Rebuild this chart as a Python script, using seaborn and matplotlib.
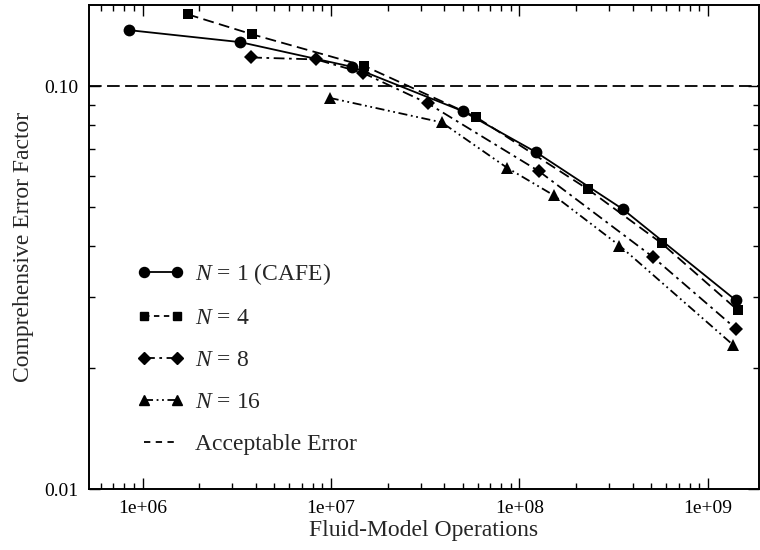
import numpy as np
import pandas as pd
import matplotlib
matplotlib.use("Agg")
import matplotlib.pyplot as plt
import seaborn as sns
from matplotlib.ticker import LogLocator, FuncFormatter, FixedLocator, NullFormatter
from matplotlib.lines import Line2D

# ---------------- data ----------------
ops_n1 = [8.5e5, 3.3e6, 1.29e7, 5.0e7, 1.23e8, 3.54e8, 1.41e9]
err_n1 = [0.1377, 0.1286, 0.1117, 0.0867, 0.0685, 0.0495, 0.0294]

ops_n4 = [1.74e6, 3.83e6, 1.50e7, 5.87e7, 2.32e8, 5.70e8, 1.44e9]
err_n4 = [0.1507, 0.1344, 0.1123, 0.0839, 0.0554, 0.0407, 0.0278]

ops_n8 = [3.77e6, 8.33e6, 1.475e7, 3.27e7, 1.27e8, 5.1e8, 1.41e9]
err_n8 = [0.1178, 0.1165, 0.1079, 0.0906, 0.0615, 0.0377, 0.0250]

ops_n16 = [9.85e6, 3.87e7, 8.57e7, 1.52e8, 3.4e8, 1.36e9]
err_n16 = [0.0935, 0.0813, 0.0628, 0.0536, 0.0402, 0.0228]

acceptable_error = 0.10

series_labels = [r"$N$ = 1 (CAFE)", r"$N$ = 4", r"$N$ = 8", r"$N$ = 16"]
accept_label = "Acceptable Error"

x_label = "Fluid-Model Operations"
y_label = "Comprehensive Error Factor"

x_major = [1e6, 1e7, 1e8, 1e9]
y_major = [0.01, 0.10]

# ---------------- build table ----------------
frames = []
for lab, xs, ys in zip(series_labels,
                       [ops_n1, ops_n4, ops_n8, ops_n16],
                       [err_n1, err_n4, err_n8, err_n16]):
    frames.append(pd.DataFrame({"ops": xs, "err": ys, "series": lab}))
df = pd.concat(frames, ignore_index=True)

# ---------------- style ----------------
sns.set_style("ticks")
plt.rcParams["font.family"] = ["Liberation Serif", "DejaVu Serif"]
plt.rcParams["mathtext.fontset"] = "custom"
plt.rcParams["mathtext.rm"] = "Liberation Serif"
plt.rcParams["mathtext.it"] = "Liberation Serif:italic"
plt.rcParams["axes.linewidth"] = 1.4

fig = plt.figure(figsize=(7.6, 5.5), dpi=100)
ax = fig.add_axes([89 / 760, 1 - 489 / 550, (759 - 89) / 760, (489 - 5) / 550])

markers = {series_labels[0]: "o", series_labels[1]: "s",
           series_labels[2]: "D", series_labels[3]: "^"}
dashes = {series_labels[0]: "",
          series_labels[1]: (6, 3),
          series_labels[2]: (6, 2.5, 1.5, 2.5),
          series_labels[3]: (5, 2, 1, 2, 1, 2)}
msizes = {series_labels[0]: 8.5, series_labels[1]: 7.5,
          series_labels[2]: 7, series_labels[3]: 8.5}
LW = 1.3

sns.lineplot(data=df, x="ops", y="err", style="series",
             style_order=series_labels, markers=markers, dashes=dashes,
             color="black", linewidth=LW, markersize=8,
             markeredgecolor="black", markeredgewidth=0,
             legend=False, ax=ax, sort=True)

for line, lab in zip(ax.lines, series_labels):
    line.set_markersize(msizes[lab])

ax.axhline(acceptable_error, color="black", linewidth=LW, dashes=(7, 3))

ax.set_xscale("log")
ax.set_yscale("log")
ax.set_xlim(5.2e5, 1.87e9)
ax.set_ylim(0.01, 0.159)

ax.xaxis.set_major_locator(FixedLocator(x_major))
ax.xaxis.set_minor_locator(LogLocator(base=10, subs=np.arange(2, 10)))
ax.xaxis.set_major_formatter(FuncFormatter(lambda v, p: f"{v:.0e}"))
ax.xaxis.set_minor_formatter(NullFormatter())
ax.yaxis.set_major_locator(FixedLocator(y_major))
ax.yaxis.set_minor_locator(LogLocator(base=10, subs=np.arange(2, 10)))
ax.yaxis.set_major_formatter(FuncFormatter(lambda v, p: f"{v:.2f}"))
ax.yaxis.set_minor_formatter(NullFormatter())

ax.tick_params(which="both", direction="in", top=True, right=True,
               colors="black", labelsize=14, width=1.0)
ax.tick_params(which="major", length=8, pad=8)
ax.tick_params(which="minor", length=4)

for s in ax.spines.values():
    s.set_color("black")

ax.set_xlabel(x_label, fontsize=17, labelpad=2)
ax.set_ylabel(y_label, fontsize=17, labelpad=7)

# legend
handles = []
for lab in series_labels:
    h = Line2D([], [], color="black", linewidth=LW,
               marker=markers[lab], markersize=msizes[lab] * 0.85)
    if dashes[lab]:
        h.set_dashes((3, 2.5) if lab == series_labels[1] else dashes[lab])
    handles.append(h)
h = Line2D([], [], color="black", linewidth=LW)
h.set_dashes((3.5, 3))
handles.append(h)
labels = series_labels + [accept_label]
ax.legend(handles, labels, loc="upper left", numpoints=2,
          bbox_to_anchor=((137 - 89) / 670, (489 - 261) / 484),
          frameon=False, fontsize=17, handlelength=2.0, handletextpad=0.45,
          labelspacing=0.87, borderpad=0, borderaxespad=0)

fig.savefig("out.png", dpi=100)
